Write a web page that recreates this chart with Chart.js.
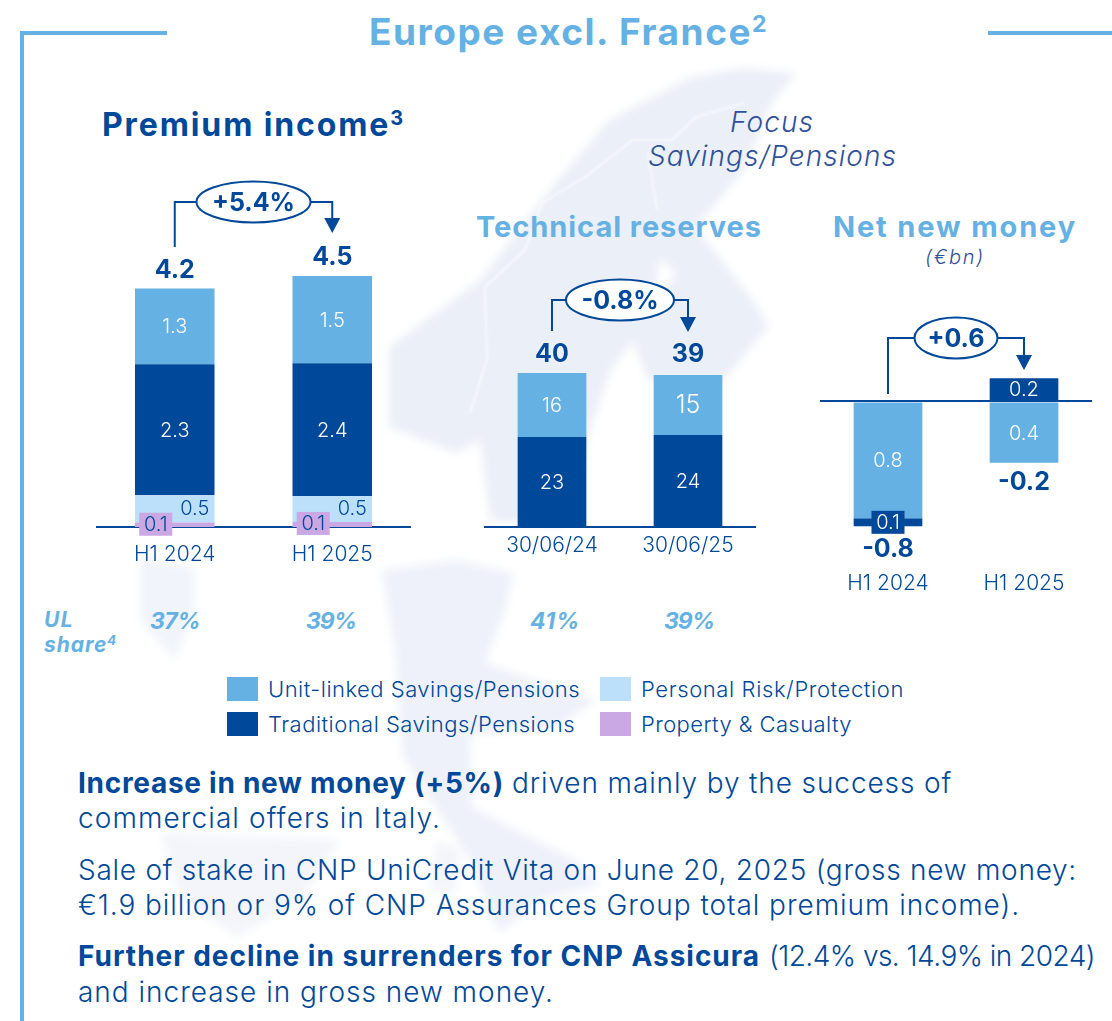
<!DOCTYPE html>
<html><head><meta charset="utf-8">
<script src="https://cdn.jsdelivr.net/npm/chart.js@4"></script>
<style>
html,body{margin:0;padding:0;background:#fff;overflow:hidden}
#page{position:relative;width:1112px;height:1021px;overflow:hidden;font-family:Inter,"Noto Sans",sans-serif;color:#004899}
#map{position:absolute;left:0;top:0}
canvas{position:absolute;display:block}
.t{position:absolute;white-space:nowrap;transform:translateY(-50%);line-height:1.2}
.b{font-weight:700}.l{font-weight:300}.i{font-style:italic}.c{color:#65b1e3}
sup{font-size:.62em;line-height:0;vertical-align:.55em}
.rule{position:absolute;background:#65b1e3}
.sw{position:absolute;width:31px;height:24px}
</style></head><body>
<div id="page">
<svg id="map" width="1112" height="1021" viewBox="0 0 1112 1021">
<defs><filter id="soft" x="-5%" y="-5%" width="110%" height="110%"><feGaussianBlur stdDeviation="4"/></filter>
<filter id="soft2"><feGaussianBlur stdDeviation="0.8"/></filter></defs>
<g filter="url(#soft)" stroke="none">
<path fill="#ebeff7" d="M744 68L796 73L772 103L744 170L696 227L758 307L768 327L724 380L648 380L631 337L676 273L660 258L652 313L610 372L590 430L575 490L561 527L490 520L480 440L456 453L389 427L389 347L480 280L552 187L609 120L691 77Z"/>
<path fill="#eef1f9" d="M382 570L458 560L513 573L506 607L485 663L596 700L560 725L470 735L472 807L575 860L600 885L540 900L499 933L470 860L403 757L395 650Z"/>
<path fill="#f1f4fa" d="M140 557L195 567L195 607L175 660L140 620Z"/>
<path fill="#f3f5fb" d="M161 833L340 840L300 900L237 937L180 900Z"/>
<path fill="#f3f5fb" d="M437 840L460 850L455 895L430 890Z"/>
</g>
<g fill="none" stroke="#f7f9fd" stroke-width="2" stroke-linejoin="round" filter="url(#soft2)">
<path d="M744 103L696 117L672 140L633 140L585 177L542 203L525 250L485 287L487 360L470 413"/>
<path d="M648 153L657 210"/>
</g>
</svg>

<div class="rule" style="left:20px;top:31px;width:147px;height:4px"></div>
<div class="rule" style="left:20px;top:31px;width:4px;height:990px"></div>
<div class="rule" style="left:988px;top:31px;width:124px;height:4px"></div>

<div class="t b c" data-w="399" style="left:369px;top:32px;font-size:37px">Europe excl. France<sup>2</sup></div>
<div class="t b" data-w="303" style="left:102px;top:125px;font-size:32px">Premium income<sup>3</sup></div>
<div class="t l i" data-w="84" style="left:730px;top:123px;font-size:28px;color:#2f5199">Focus</div>
<div class="t l i" data-w="249" style="left:648px;top:157px;font-size:28px;color:#2f5199">Savings/Pensions</div>
<div class="t b c" data-w="286" style="left:476px;top:227px;font-size:29px">Technical reserves</div>
<div class="t b c" data-w="244" style="left:833px;top:227px;font-size:29px">Net new money</div>
<div class="t l i" data-w="60" style="left:925px;top:257px;font-size:20px;color:#2f5199">(€bn)</div>

<div class="t b i c" data-w="30" style="left:44px;top:620px;font-size:21px">UL</div>
<div class="t b i c" data-w="73" style="left:44px;top:645px;font-size:21px">share<sup>4</sup></div>
<div id="ul"></div>
<div id="legend"></div>

<div class="t b" data-w="426" style="left:78px;top:783.5px;font-size:28px">Increase in new money (+5%)</div>
<div class="t l" data-w="440" style="left:512px;top:783.5px;font-size:28px">driven mainly by the success of</div>
<div class="t l" data-w="363" style="left:78px;top:818.5px;font-size:28px">commercial offers in Italy.</div>
<div class="t l" data-w="999" style="left:78px;top:870.5px;font-size:28px">Sale of stake in CNP UniCredit Vita on June 20, 2025 (gross new money:</div>
<div class="t l" data-w="942" style="left:78px;top:905.5px;font-size:28px">€1.9 billion or 9% of CNP Assurances Group total premium income).</div>
<div class="t b" data-w="682" style="left:78px;top:956.5px;font-size:28px">Further decline in surrenders for CNP Assicura</div>
<div class="t l" data-w="326" style="left:769px;top:956.5px;font-size:28px">(12.4% vs. 14.9% in 2024)</div>
<div class="t l" data-w="476" style="left:78px;top:992.5px;font-size:28px">and increase in gross new money.</div>

<canvas id="c1" style="left:96px;top:170px"></canvas>
<canvas id="c2" style="left:484px;top:270px"></canvas>
<canvas id="c3" style="left:820px;top:310px"></canvas>
</div>
<script>
// ---- data ----
const periodLabels = ['H1 2024', 'H1 2025'];
const dateLabels = ['30/06/24', '30/06/25'];

const premiumPC = [0.08, 0.09];
const premiumRisk = [0.48, 0.46];
const premiumTraditional = [2.32, 2.35];
const premiumUnitLinked = [1.34, 1.54];
const premiumTotals = ['4.2', '4.5'];
const premiumChange = '+5.4%';

const reservesTraditional = [23.1, 23.6];
const reservesUnitLinked = [16.4, 15.4];
const reservesTotals = ['40', '39'];
const reservesChange = '-0.8%';

const netUnitLinked = [-0.8, -0.42];
const netTraditional = [-0.055, 0.16];
const netTotals = ['-0.8', '-0.2'];
const netChange = '+0.6';

const ulShareValues = ['37%', '39%', '41%', '39%'];
const legendLabels = ['Unit-linked Savings/Pensions', 'Traditional Savings/Pensions', 'Personal Risk/Protection', 'Property & Casualty'];

// ---- styles ----
const FONT = 'Inter, "Noto Sans", sans-serif';
const LIGHT = '#65b1e3', DARK = '#004899', PALE = '#bce0f9', PURPLE = '#c9a8e4';
const legendColors = [LIGHT, DARK, PALE, PURPLE];

// ---- decoration built from arrays ----
const ulX = [150, 306, 530, 664];
ulShareValues.forEach((v, i) => {
  const d = document.createElement('div');
  d.className = 't b i c'; d.textContent = v; d.dataset.w = 50;
  d.style.cssText = `left:${ulX[i]}px;top:621.5px;font-size:23px`;
  document.getElementById('ul').appendChild(d);
});
const legX = [227, 227, 600, 600], legY = [689, 723.5, 689, 723.5], legW = [312, 307, 263, 211];
legendLabels.forEach((v, i) => {
  const s = document.createElement('div');
  s.className = 'sw'; s.style.cssText = `left:${legX[i]}px;top:${Math.round(legY[i] - 12)}px;background:${legendColors[i]}`;
  const d = document.createElement('div');
  d.className = 't l'; d.textContent = v; d.dataset.w = legW[i];
  d.style.cssText = `left:${legX[i] + 41}px;top:${legY[i]}px;font-size:22px`;
  const l = document.getElementById('legend'); l.appendChild(s); l.appendChild(d);
});
document.querySelectorAll('[data-w]').forEach(el => {
  const w = el.getBoundingClientRect().width, n = el.textContent.length;
  el.style.letterSpacing = ((+el.dataset.w - w) / n).toFixed(3) + 'px';
});

// ---- inline plugin: segment labels, totals, change bracket ----
const annotate = {
  id: 'annotate',
  afterDatasetsDraw(chart, _a, o) {
    const ctx = chart.ctx;
    ctx.save();
    ctx.textAlign = 'center'; ctx.textBaseline = 'middle';
    const n = chart.data.labels.length;
    // segment labels
    chart.data.datasets.forEach((ds, di) => {
      const meta = chart.getDatasetMeta(di);
      meta.data.forEach((el, i) => {
        const st = (ds.labelStyle && ds.labelStyle[i]) || {};
        const cy = (el.y + el.base) / 2 + (st.dy || 0), cx = el.x + (st.dx || 0);
        if (st.box) { ctx.fillStyle = st.box; ctx.fillRect(cx - 16.5, cy - 11.5, 33, 23); }
        ctx.fillStyle = st.color || '#fff';
        ctx.font = `300 ${st.size || 20}px ${FONT}`;
        ctx.fillText(Math.abs(ds.data[i]).toFixed(ds.decimals), cx, cy + 1);
      });
    });
    // totals
    ctx.fillStyle = DARK; ctx.font = `700 25px ${FONT}`;
    const xs = [];
    for (let i = 0; i < n; i++) {
      let top = Infinity, bot = -Infinity, x = 0;
      chart.data.datasets.forEach((ds, di) => {
        const el = chart.getDatasetMeta(di).data[i];
        top = Math.min(top, el.y, el.base); bot = Math.max(bot, el.y, el.base); x = el.x;
      });
      xs.push(x);
      const off = o.offsets[i];
      ctx.fillText(o.totals[i], x, (o.below ? bot + off : top - off) + 1);
    }
    // bracket with ellipse and arrow
    const [x0, x1] = xs, y = o.y, mid = (x0 + x1) / 2;
    ctx.strokeStyle = DARK; ctx.lineWidth = 2; ctx.lineJoin = 'miter';
    ctx.beginPath();
    ctx.moveTo(x0, o.start); ctx.lineTo(x0, y); ctx.lineTo(x1, y); ctx.lineTo(x1, o.tip - 14);
    ctx.stroke();
    ctx.fillStyle = DARK;
    ctx.beginPath();
    ctx.moveTo(x1 - 8, o.tip - 15); ctx.lineTo(x1 + 8, o.tip - 15); ctx.lineTo(x1, o.tip);
    ctx.closePath(); ctx.fill();
    ctx.beginPath();
    ctx.ellipse(mid, y, o.rx, 20.5, 0, 0, Math.PI * 2);
    ctx.fillStyle = '#fff'; ctx.fill(); ctx.stroke();
    ctx.fillStyle = DARK; ctx.font = `700 25px ${FONT}`;
    ctx.fillText(o.text, mid, y + 1);
    ctx.restore();
  }
};

function makeChart(id, w, h, labels, datasets, yMin, yMax, xHeight, tickPad, opts, zeroLine) {
  const cv = document.getElementById(id);
  cv.width = w; cv.height = h; cv.style.width = w + 'px'; cv.style.height = h + 'px';
  const bar = { borderWidth: 0, barPercentage: 0.505, categoryPercentage: 1, stack: 's' };
  return new Chart(cv, {
    type: 'bar',
    data: { labels, datasets: datasets.map(d => Object.assign({}, bar, d)) },
    plugins: [annotate],
    options: {
      responsive: false, animation: false, devicePixelRatio: 1,
      layout: { padding: 0 },
      plugins: { legend: { display: false }, tooltip: { enabled: false }, annotate: opts },
      scales: {
        x: {
          stacked: true,
          grid: { display: false, drawTicks: false },
          border: zeroLine ? { display: false } : { display: true, color: DARK, width: 2 },
          ticks: { color: DARK, padding: tickPad, maxRotation: 0, font: { family: FONT, size: 21, weight: 300 } },
          afterFit: s => { s.height = xHeight; }
        },
        y: zeroLine ? {
          stacked: true, min: yMin, max: yMax,
          border: { display: false },
          grid: { color: DARK, lineWidth: 2, drawTicks: false, z: 1 },
          ticks: { display: false },
          afterBuildTicks: a => { a.ticks = [{ value: 0 }]; },
          afterFit: s => { s.width = 0; }
        } : { display: false, stacked: true, min: yMin, max: yMax }
      }
    }
  });
}

const none = [{}, {}];
makeChart('c1', 315, 400, periodLabels, [
  { label: 'Property & Casualty', data: premiumPC, backgroundColor: PURPLE, decimals: 1,
    labelStyle: [{ dx: -19, dy: -0.5, box: PURPLE, color: DARK }, { dx: -19, dy: -1, box: PURPLE, color: DARK }] },
  { label: 'Personal Risk/Protection', data: premiumRisk, backgroundColor: PALE, decimals: 1,
    labelStyle: [{ dx: 20, dy: -1, color: DARK }, { dx: 20, dy: -1, color: DARK }] },
  { label: 'Traditional Savings/Pensions', data: premiumTraditional, backgroundColor: DARK, decimals: 1, labelStyle: none },
  { label: 'Unit-linked Savings/Pensions', data: premiumUnitLinked, backgroundColor: LIGHT, decimals: 1, labelStyle: none }
], 0, 6.318, 43, 15, { totals: premiumTotals, offsets: [19.5, 20], y: 32, start: 77, tip: 63, rx: 57, text: premiumChange });

makeChart('c2', 272, 300, dateLabels, [
  { label: 'Traditional Savings/Pensions', data: reservesTraditional, backgroundColor: DARK, decimals: 0, labelStyle: none },
  { label: 'Unit-linked Savings/Pensions', data: reservesUnitLinked, backgroundColor: LIGHT, decimals: 0,
    labelStyle: [{}, { size: 25 }] }
], 0, 65.9, 43, 6, { totals: reservesTotals, offsets: [19, 21], y: 30, start: 61, tip: 62, rx: 54, text: reservesChange });

makeChart('c3', 272, 290, periodLabels, [
  { label: 'Unit-linked Savings/Pensions', data: netUnitLinked, backgroundColor: LIGHT, decimals: 1, labelStyle: none },
  { label: 'Traditional Savings/Pensions', data: netTraditional, backgroundColor: DARK, decimals: 1,
    labelStyle: [{ box: DARK }, {}] }
], -1.0856, 0.6267, 40, 11, { totals: netTotals, offsets: [22, 19], below: true, y: 28, start: 84, tip: 60, rx: 41.5, text: netChange }, true);
</script>
</body></html>
